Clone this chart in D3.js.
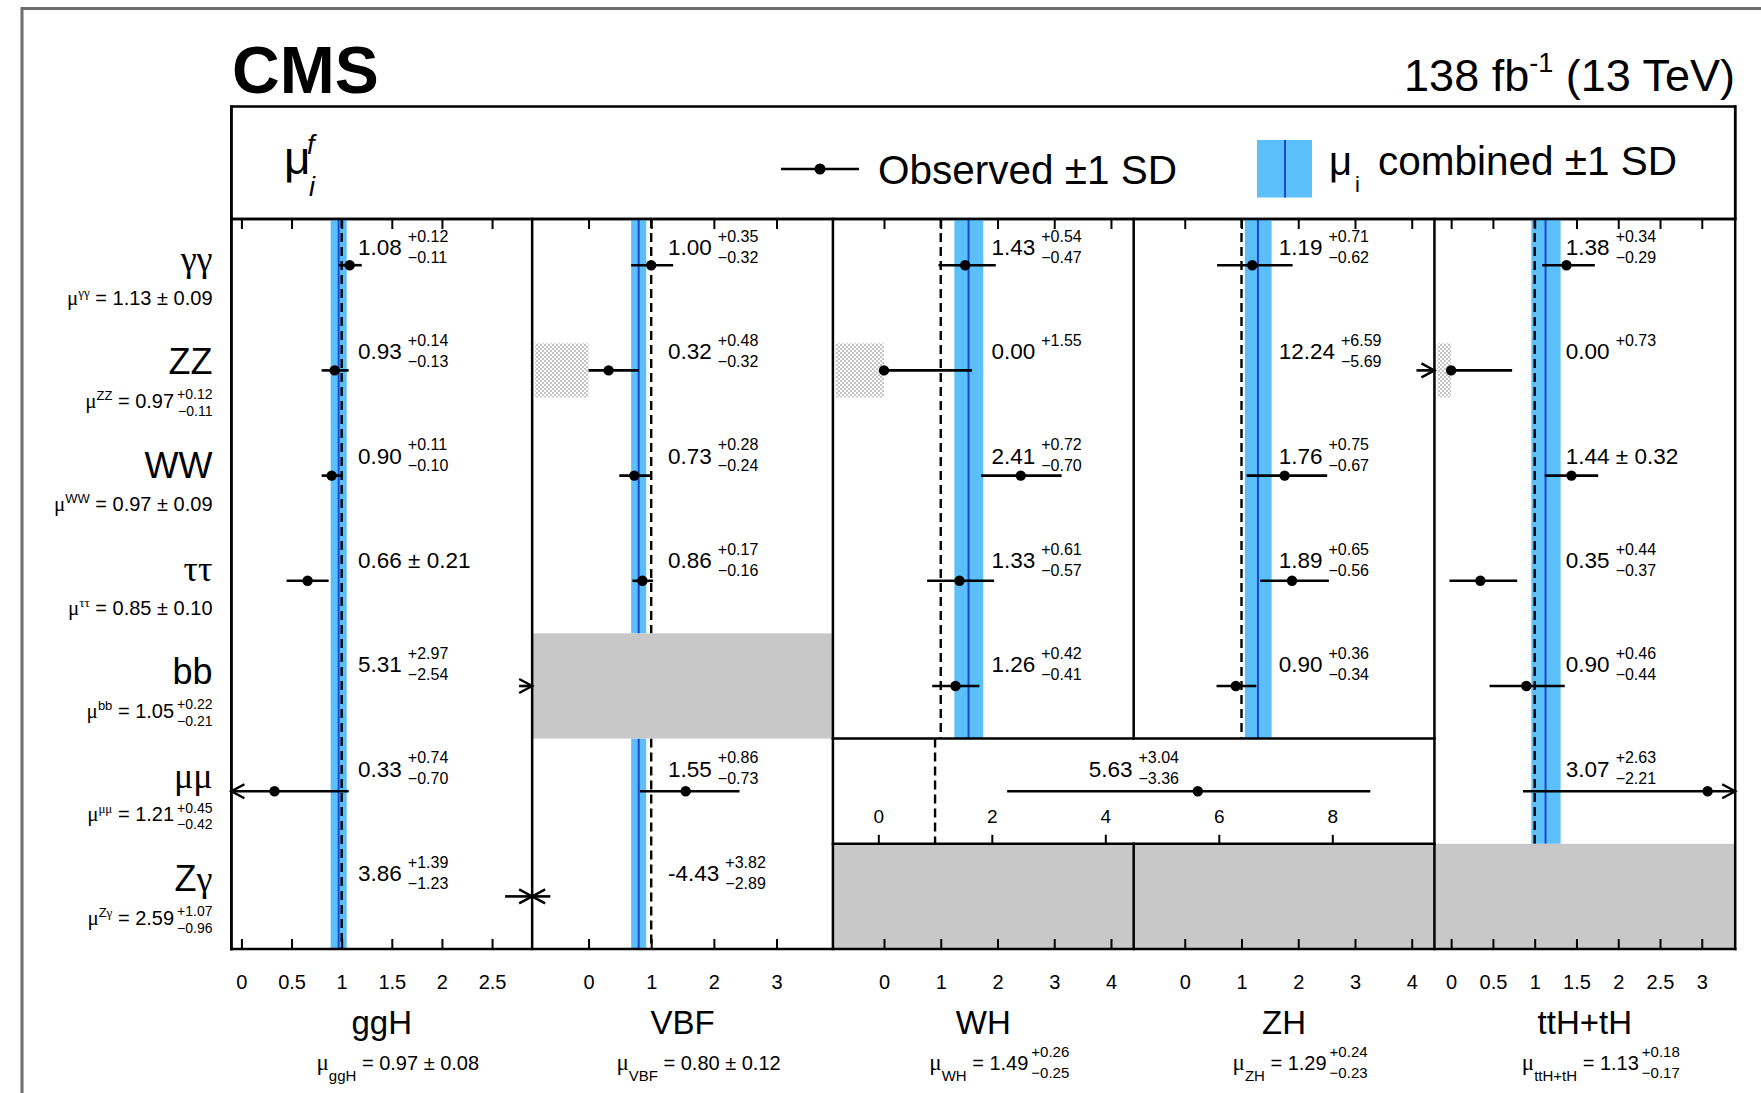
<!DOCTYPE html>
<html>
<head>
<meta charset="utf-8">
<script src="https://cdn.jsdelivr.net/npm/d3@7"></script>
<style>
  body { margin: 0; background: #fff; }
  svg text { font-family: 'Liberation Sans', Arial, Helvetica, sans-serif; fill: #000; }
</style>
</head>
<body>
<svg id="chart" width="1761" height="1093"></svg>
<script>
// ---------------------------------------------------------------
// Signal strength modifiers per production mode (columns) and
// decay channel (rows). null = no measurement for that cell.
// ---------------------------------------------------------------
const channels = ["γγ", "ZZ", "WW", "ττ", "bb", "μμ", "Zγ"];
const modes = ["ggH", "VBF", "WH", "ZH", "ttH+tH"];

const obsVal = [
  [1.08, 0.93, 0.90, 0.66, 5.31, 0.33, 3.86],
  [1.00, 0.32, 0.73, 0.86, null, 1.55, -4.43],
  [1.43, 0.00, 2.41, 1.33, 1.26, null, null],
  [1.19, 12.24, 1.76, 1.89, 0.90, null, null],
  [1.38, 0.00, 1.44, 0.35, 0.90, 3.07, null]
];
const obsUp = [
  [0.12, 0.14, 0.11, 0.21, 2.97, 0.74, 1.39],
  [0.35, 0.48, 0.28, 0.17, null, 0.86, 3.82],
  [0.54, 1.55, 0.72, 0.61, 0.42, null, null],
  [0.71, 6.59, 0.75, 0.65, 0.36, null, null],
  [0.34, 0.73, 0.32, 0.44, 0.46, 2.63, null]
];
const obsDn = [
  [0.11, 0.13, 0.10, 0.21, 2.54, 0.70, 1.23],
  [0.32, 0.32, 0.24, 0.16, null, 0.73, 2.89],
  [0.47, 0.00, 0.70, 0.57, 0.41, null, null],
  [0.62, 5.69, 0.67, 0.56, 0.34, null, null],
  [0.29, 0.00, 0.32, 0.37, 0.44, 2.21, null]
];

// WH and ZH share a single μμ measurement (VH)
const vhMuMuVal = 5.63, vhMuMuUp = 3.04, vhMuMuDn = 3.36;
const vhMuMuDomain = [-0.8, 9.8];
const vhMuMuTicks = [0, 2, 4, 6, 8];

// combined per production mode
const modeMu = [0.97, 0.80, 1.49, 1.29, 1.13];
const modeUp = [0.08, 0.12, 0.26, 0.24, 0.18];
const modeDn = [0.08, 0.12, 0.25, 0.23, 0.17];

// combined per decay channel
const chanMu = [1.13, 0.97, 0.97, 0.85, 1.05, 1.21, 2.59];
const chanUp = [0.09, 0.12, 0.09, 0.10, 0.22, 0.45, 1.07];
const chanDn = [0.09, 0.11, 0.09, 0.10, 0.21, 0.42, 0.96];

// axis ranges and tick values per column
const modeDomains = [[-0.1, 2.9], [-0.9, 3.9], [-0.9, 4.4], [-0.9, 4.4], [-0.2, 3.4]];
const modeTicks = [
  [0, 0.5, 1, 1.5, 2, 2.5],
  [0, 1, 2, 3],
  [0, 1, 2, 3, 4],
  [0, 1, 2, 3, 4],
  [0, 0.5, 1, 1.5, 2, 2.5, 3]
];

// ---------------------------------------------------------------
// Layout and style
// ---------------------------------------------------------------
const SANS = "'Liberation Sans', Arial, Helvetica, sans-serif";
const SERIF = "'Liberation Serif', 'Times New Roman', serif";
const BLUE_FILL = "#5bbff9";
const BLUE_LINE = "#1c46d6";
const GREY = "#c8c8c8";

const plot = { left: 231.4, right: 1735.2, top: 219, bottom: 949, legendTop: 106.5 };
const rowStep = 105.2;
const labelDx = [126.6, 135.9, 158.5, 145.0, 131.4];   // value label offset inside each column
const vhLabelDx = 255.8;                               // offset of the shared VH μμ label from WH left edge

const svg = d3.select("#chart");

const panelX = d3.scaleBand().domain(modes).range([plot.left, plot.right]);
const rowY = d3.scaleBand().domain(channels)
  .range([plot.bottom - rowStep * channels.length, plot.bottom]);
const valueLabelY = d3.scalePoint().domain(channels).range([255, 881]);
const nameY = d3.scalePoint().domain(channels).range([271, 891]);

const xScales = modes.map((m, i) =>
  d3.scaleLinear().domain(modeDomains[i]).range([panelX(m), panelX(m) + panelX.bandwidth()]));
const vhX = d3.scaleLinear().domain(vhMuMuDomain)
  .range([panelX("WH"), panelX("ZH") + panelX.bandwidth()]);

const isMerged = (mi, ci) => (modes[mi] === "WH" || modes[mi] === "ZH") && channels[ci] === "μμ";
const hasData = (mi, ci) => obsVal[mi][ci] !== null;
const fmt2 = v => v.toFixed(2);
const MINUS = "\u2212";

// text helper: Greek letters in a serif face, the rest sans
function richText(sel, str) {
  const runs = [];
  for (const ch of str) {
    const gk = /[\u0370-\u03ff]/.test(ch);
    if (runs.length && runs[runs.length - 1].gk === gk) runs[runs.length - 1].t += ch;
    else runs.push({ t: ch, gk });
  }
  runs.forEach(r => sel.append("tspan").attr("font-family", r.gk ? SERIF : SANS).text(r.t));
  return sel;
}

// hatch for the unphysical (μ < 0) region
const defs = svg.append("defs");
const pat = defs.append("pattern").attr("id", "stipple").attr("patternUnits", "userSpaceOnUse")
  .attr("width", 4).attr("height", 4);
pat.append("rect").attr("width", 4).attr("height", 4).attr("fill", "#fff");
pat.append("rect").attr("x", 0).attr("y", 0).attr("width", 2).attr("height", 2).attr("fill", "#c4c4c4");
pat.append("rect").attr("x", 2).attr("y", 2).attr("width", 2).attr("height", 2).attr("fill", "#c4c4c4");

// outer frame
svg.append("rect").attr("x", 22).attr("y", 8.5).attr("width", 1800).attr("height", 1200)
  .attr("fill", "none").attr("stroke", "#6e6e6e").attr("stroke-width", 3);

// ---------------------------------------------------------------
// Header
// ---------------------------------------------------------------
svg.append("text").attr("x", 232).attr("y", 93).attr("font-size", 66).attr("font-weight", "bold").text("CMS");

const lumi = svg.append("text").attr("x", 1735).attr("y", 91).attr("font-size", 45).attr("text-anchor", "end");
lumi.append("tspan").text("138 fb");
lumi.append("tspan").attr("font-size", 27).attr("dy", -19).text("-1");
lumi.append("tspan").attr("dy", 19).text(" (13 TeV)");

// legend box
svg.append("rect").attr("x", plot.left).attr("y", plot.legendTop)
  .attr("width", plot.right - plot.left).attr("height", plot.top - plot.legendTop)
  .attr("fill", "#fff").attr("stroke", "#000").attr("stroke-width", 2.5);

svg.append("text").attr("x", 284).attr("y", 174).attr("font-family", SERIF).attr("font-size", 46).text("μ");
svg.append("text").attr("x", 307).attr("y", 154).attr("font-family", SERIF).attr("font-style", "italic")
  .attr("font-size", 27).text("f");
svg.append("text").attr("x", 309).attr("y", 196).attr("font-family", SERIF).attr("font-style", "italic")
  .attr("font-size", 27).text("i");

svg.append("line").attr("x1", 781).attr("x2", 859).attr("y1", 169).attr("y2", 169)
  .attr("stroke", "#000").attr("stroke-width", 2.6);
svg.append("circle").attr("cx", 820).attr("cy", 169).attr("r", 5.5).attr("fill", "#000");
svg.append("text").attr("x", 878).attr("y", 184).attr("font-size", 40.5).text("Observed ±1 SD");

svg.append("rect").attr("x", 1257).attr("y", 140).attr("width", 55).attr("height", 57.5).attr("fill", BLUE_FILL);
svg.append("line").attr("x1", 1285).attr("x2", 1285).attr("y1", 140).attr("y2", 197.5)
  .attr("stroke", BLUE_LINE).attr("stroke-width", 2);
svg.append("text").attr("x", 1329).attr("y", 175).attr("font-family", SERIF).attr("font-size", 40).text("μ");
svg.append("text").attr("x", 1355).attr("y", 192).attr("font-size", 22).text("i");
svg.append("text").attr("x", 1378).attr("y", 175).attr("font-size", 40.5).text("combined ±1 SD");

// ---------------------------------------------------------------
// Panels
// ---------------------------------------------------------------
const gBands = svg.append("g");
const gGrey = svg.append("g");
const gMarks = svg.append("g");
const gFrame = svg.append("g");
const gAxes = svg.append("g");
const gText = svg.append("g");

const rowTop = c => Math.max(rowY(c), plot.top);
const rowBot = c => rowY(c) + rowY.bandwidth();
const rowMid = c => rowY(c) + rowY.bandwidth() / 2;

// contiguous runs of measured rows in a column
function segments(mi) {
  const segs = [];
  let start = null;
  channels.forEach((c, ci) => {
    if (hasData(mi, ci)) { if (start === null) start = ci; }
    else if (start !== null) { segs.push([start, ci - 1]); start = null; }
  });
  if (start !== null) segs.push([start, channels.length - 1]);
  return segs.map(([a, b]) => [rowTop(channels[a]), rowBot(channels[b])]);
}

function arrowHead(g, xTip, y, dir) {
  // dir = -1 points left, +1 points right
  g.append("path")
    .attr("d", `M${xTip - dir * 13},${y - 7}L${xTip},${y}L${xTip - dir * 13},${y + 7}`)
    .attr("fill", "none").attr("stroke", "#000").attr("stroke-width", 2.4);
}

function errorBar(g, x, y, v, up, dn) {
  const [d0, d1] = x.domain();
  const lo = v - dn, hi = v + up;
  const line = (a, b) => g.append("line").attr("x1", a).attr("x2", b).attr("y1", y).attr("y2", y)
    .attr("stroke", "#000").attr("stroke-width", 2.6);
  if (hi < d0) { line(x(d0), x(d0) + 18); arrowHead(g, x(d0), y, -1); return; }
  if (lo > d1) { line(x(d1) - 18, x(d1)); arrowHead(g, x(d1), y, 1); return; }
  line(x(Math.max(lo, d0)), x(Math.min(hi, d1)));
  if (lo < d0) arrowHead(g, x(d0), y, -1);
  if (hi > d1) arrowHead(g, x(d1), y, 1);
  if (v >= d0 && v <= d1) g.append("circle").attr("cx", x(v)).attr("cy", y).attr("r", 5.2).attr("fill", "#000");
}

function valueLabel(g, x, y, v, up, dn) {
  const sym = up === dn;
  const main = g.append("text").attr("x", x).attr("y", y).attr("font-size", 22.5)
    .text(fmt2(v) + (sym ? " ± " + fmt2(up) : ""));
  if (!sym) {
    const w = main.node().getComputedTextLength();
    g.append("text").attr("x", x + w + 6).attr("y", y - 13.4).attr("font-size", 16).text("+" + fmt2(up));
    if (dn > 0) g.append("text").attr("x", x + w + 6).attr("y", y + 7.6).attr("font-size", 16).text(MINUS + fmt2(dn));
  }
}

modes.forEach((m, mi) => {
  const x = xScales[mi];
  const x0 = panelX(m), x1 = x0 + panelX.bandwidth();

  // combined band, central value and SM reference
  segments(mi).forEach(([yA, yB]) => {
    gBands.append("rect").attr("x", x(modeMu[mi] - modeDn[mi])).attr("y", yA)
      .attr("width", x(modeMu[mi] + modeUp[mi]) - x(modeMu[mi] - modeDn[mi])).attr("height", yB - yA)
      .attr("fill", BLUE_FILL);
    gBands.append("line").attr("x1", x(modeMu[mi])).attr("x2", x(modeMu[mi])).attr("y1", yA).attr("y2", yB)
      .attr("stroke", BLUE_LINE).attr("stroke-width", 2);
    gBands.append("line").attr("x1", x(1)).attr("x2", x(1)).attr("y1", yA).attr("y2", yB)
      .attr("stroke", "#000").attr("stroke-width", 2.4).attr("stroke-dasharray", "9,5");
  });

  channels.forEach((c, ci) => {
    if (isMerged(mi, ci)) return;
    if (!hasData(mi, ci)) {
      gGrey.append("rect").attr("x", x0).attr("y", rowTop(c)).attr("width", x1 - x0)
        .attr("height", rowBot(c) - rowTop(c)).attr("fill", GREY);
      return;
    }
    const v = obsVal[mi][ci], up = obsUp[mi][ci], dn = obsDn[mi][ci];
    const y = rowMid(c);
    if (Math.abs(v - dn) < 1e-9 && x.domain()[0] < 0) {
      gBands.append("rect").attr("x", x0 + 3).attr("y", y - 27).attr("width", x(0) - x0 - 3).attr("height", 54)
        .attr("fill", "url(#stipple)");
    }
    errorBar(gMarks, x, y, v, up, dn);
    valueLabel(gText, x0 + labelDx[mi], valueLabelY(c), v, up, dn);
  });

  // ticks along the top and bottom edges
  gAxes.append("g").attr("transform", `translate(0,${plot.top})`)
    .call(d3.axisTop(x).tickValues(modeTicks[mi]).tickSizeInner(-10).tickSizeOuter(0).tickFormat(""))
    .call(s => { s.select(".domain").remove(); s.selectAll("line").attr("stroke", "#000").attr("stroke-width", 2); });
  gAxes.append("g").attr("transform", `translate(0,${plot.bottom})`)
    .call(d3.axisBottom(x).tickValues(modeTicks[mi]).tickSizeInner(-10).tickSizeOuter(0)
      .tickPadding(26).tickFormat(d3.format("~g")))
    .call(s => {
      s.select(".domain").remove();
      s.selectAll("line").attr("stroke", "#000").attr("stroke-width", 2);
      s.selectAll("text").attr("font-size", 20).attr("font-family", SANS).attr("fill", "#000");
    });

  // column title and combined value
  gText.append("text").attr("x", (x0 + x1) / 2).attr("y", 1034).attr("text-anchor", "middle")
    .attr("font-size", 33).text(m);

  const g = gText.append("g");
  const t = g.append("text").attr("y", 1070).attr("font-size", 20);
  t.append("tspan").attr("font-family", SERIF).attr("font-size", 23).text("μ");
  t.append("tspan").attr("font-size", 15).attr("dy", 11).text(m);
  const sym = modeUp[mi] === modeDn[mi];
  t.append("tspan").attr("dy", -11).text(" = " + fmt2(modeMu[mi]) + (sym ? " ± " + fmt2(modeUp[mi]) : ""));
  if (!sym) {
    const w = t.node().getComputedTextLength();
    g.append("text").attr("x", w + 3).attr("y", 1057).attr("font-size", 15).text("+" + fmt2(modeUp[mi]));
    g.append("text").attr("x", w + 3).attr("y", 1078).attr("font-size", 15).text(MINUS + fmt2(modeDn[mi]));
  }
  const bb = g.node().getBBox();
  g.attr("transform", `translate(${(x0 + x1) / 2 + 16 - (bb.x + bb.width / 2)},0)`);
});

// shared VH μμ row spanning the WH and ZH columns
{
  const c = "μμ";
  const y = rowMid(c);
  gBands.append("line").attr("x1", vhX(1)).attr("x2", vhX(1)).attr("y1", rowTop(c)).attr("y2", rowBot(c))
    .attr("stroke", "#000").attr("stroke-width", 2.4).attr("stroke-dasharray", "9,5");
  errorBar(gMarks, vhX, y, vhMuMuVal, vhMuMuUp, vhMuMuDn);
  valueLabel(gText, panelX("WH") + vhLabelDx, valueLabelY(c), vhMuMuVal, vhMuMuUp, vhMuMuDn);
  gAxes.append("g").attr("transform", `translate(0,${rowBot(c)})`)
    .call(d3.axisTop(vhX).tickValues(vhMuMuTicks).tickSizeInner(9).tickSizeOuter(0).tickPadding(11.5)
      .tickFormat(d3.format("~g")))
    .call(s => {
      s.select(".domain").remove();
      s.selectAll("line").attr("stroke", "#000").attr("stroke-width", 2);
      s.selectAll("text").attr("font-size", 19).attr("font-family", SANS).attr("fill", "#000");
    });
}

// frame lines
const frameLine = (xa, ya, xb, yb) => gFrame.append("line")
  .attr("x1", xa).attr("y1", ya).attr("x2", xb).attr("y2", yb)
  .attr("stroke", "#000").attr("stroke-width", 2.5).attr("stroke-linecap", "square");
frameLine(plot.left, plot.bottom, plot.right, plot.bottom);
frameLine(plot.left, plot.top, plot.right, plot.top);
modes.forEach((m, mi) => {
  const xl = panelX(m);
  if (m === "ZH") {
    frameLine(xl, plot.top, xl, rowBot("bb"));
    frameLine(xl, rowTop("Zγ"), xl, plot.bottom);
  } else {
    frameLine(xl, plot.top, xl, plot.bottom);
  }
});
frameLine(plot.right, plot.legendTop, plot.right, plot.bottom);
frameLine(plot.left, plot.legendTop, plot.left, plot.bottom);
frameLine(panelX("WH"), rowTop("μμ"), panelX("ZH") + panelX.bandwidth(), rowTop("μμ"));
frameLine(panelX("WH"), rowBot("μμ"), panelX("ZH") + panelX.bandwidth(), rowBot("μμ"));

// ---------------------------------------------------------------
// Decay channel labels with their combined values
// ---------------------------------------------------------------
const labelRight = 212.5;
channels.forEach((c, ci) => {
  const yName = nameY(c);
  richText(gText.append("text").attr("x", labelRight).attr("y", yName).attr("text-anchor", "end")
    .attr("font-size", 36), c);

  const ySub = yName + 33.5;
  const sym = chanUp[ci] === chanDn[ci];
  let right = labelRight;
  if (!sym) {
    const a = gText.append("text").attr("x", labelRight).attr("y", ySub - 8.5).attr("text-anchor", "end")
      .attr("font-size", 14).text("+" + fmt2(chanUp[ci]));
    const b = gText.append("text").attr("x", labelRight).attr("y", ySub + 8).attr("text-anchor", "end")
      .attr("font-size", 14).text(MINUS + fmt2(chanDn[ci]));
    right = labelRight - Math.max(a.node().getComputedTextLength(), b.node().getComputedTextLength()) - 3;
  }
  const t = gText.append("text").attr("x", right).attr("y", ySub).attr("text-anchor", "end").attr("font-size", 20);
  t.append("tspan").attr("font-family", SERIF).attr("font-size", 21).text("μ");
  const sup = t.append("tspan").attr("font-size", 13).attr("dy", -8);
  richText(sup, c);
  t.append("tspan").attr("dy", 8).text(" = " + fmt2(chanMu[ci]) + (sym ? " ± " + fmt2(chanUp[ci]) : ""));
});
</script>
</body>
</html>
